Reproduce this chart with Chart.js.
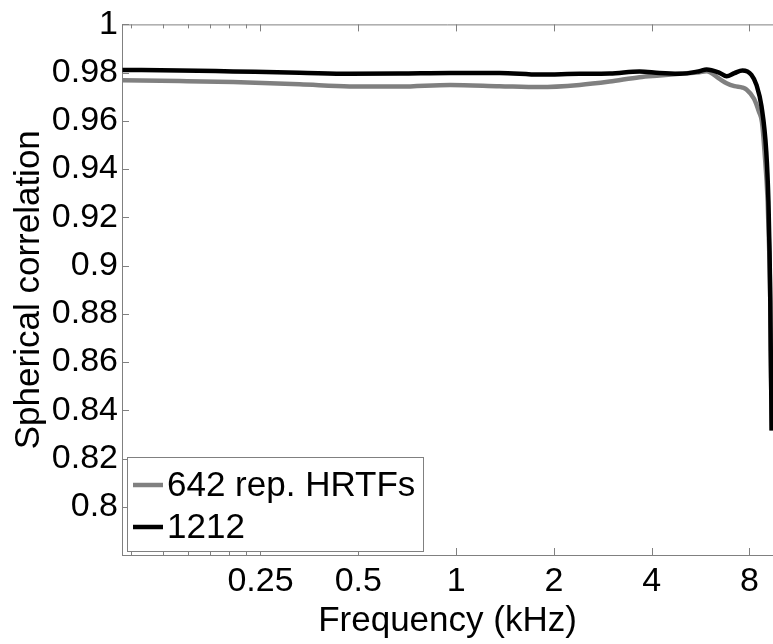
<!DOCTYPE html>
<html>
<head>
<meta charset="utf-8">
<script src="https://cdn.jsdelivr.net/npm/chart.js@4.4.1/dist/chart.umd.min.js"></script>
<style>
  html, body { margin: 0; padding: 0; background: #fff; }
  #wrap { width: 773px; height: 644px; position: relative; }
</style>
</head>
<body>
<div id="wrap"><canvas id="chart"></canvas></div>
<script>
// values (frequency in kHz, spherical correlation)
const freqGray = [0.094, 0.141, 0.206, 0.33, 0.47, 0.67, 0.96, 1.36, 1.81, 2.40, 2.97, 3.67, 4.23, 4.87, 5.61, 5.90, 6.47, 6.80, 7.19, 7.61, 7.83, 8.26, 8.56, 8.74, 8.90, 9.10, 9.20, 9.27, 9.30, 9.34, 9.36];
const corrGray = [0.9768, 0.9765, 0.9761, 0.9752, 0.9743, 0.9742, 0.9749, 0.9744, 0.9740, 0.9749, 0.9763, 0.9781, 0.9788, 0.9795, 0.9802, 0.9806, 0.9774, 0.9756, 0.9744, 0.9738, 0.9730, 0.9692, 0.9637, 0.9595, 0.9472, 0.9265, 0.9060, 0.8852, 0.8646, 0.8440, 0.8316];

const freqBlack = [0.094, 0.141, 0.206, 0.33, 0.47, 0.67, 0.96, 1.36, 1.81, 2.40, 2.97, 3.67, 4.23, 4.87, 5.61, 5.90, 6.47, 6.80, 7.19, 7.61, 8.11, 8.41, 8.71, 9.01, 9.15, 9.22, 9.27, 9.30, 9.34, 9.36];
const corrBlack = [0.9811, 0.9809, 0.9805, 0.9800, 0.9795, 0.9796, 0.9799, 0.9799, 0.9792, 0.9795, 0.9796, 0.9805, 0.9798, 0.9795, 0.9806, 0.9813, 0.9799, 0.9785, 0.9798, 0.9809, 0.9791, 0.9748, 0.9660, 0.9472, 0.9265, 0.9060, 0.8852, 0.8646, 0.8440, 0.8316];

const xTicks = [0.25, 0.5, 1, 2, 4, 8];
const xMinorTicks = [0.1, 0.125, 0.15, 0.175, 0.2, 0.225];
const yTicks = [0.8, 0.82, 0.84, 0.86, 0.88, 0.9, 0.92, 0.94, 0.96, 0.98, 1];

const labels = ['642 rep. HRTFs', '1212'];
const colors = ['#808080', '#000000'];

const fontFamily = '"Liberation Sans", Arial, Helvetica, sans-serif';
const axisColor = '#808080';

const toPoints = (xs, ys) => xs.map((x, i) => ({ x: x, y: ys[i] }));

// box, inward ticks and the legend, drawn like the matlab figure
const framePlugin = {
    id: 'frame',
    afterDraw: (chart) => {
        const { ctx, chartArea, scales } = chart;
        const { left, right, top, bottom } = chartArea;
        ctx.save();
        ctx.strokeStyle = axisColor;
        ctx.lineWidth = 1;
        ctx.beginPath();
        ctx.moveTo(left, top + 0.5);
        ctx.lineTo(right, top + 0.5);
        // major x ticks
        xTicks.forEach(v => {
            const px = Math.round(scales.x.getPixelForValue(v)) + 0.5;
            ctx.moveTo(px, bottom); ctx.lineTo(px, bottom - 7);
            ctx.moveTo(px, top); ctx.lineTo(px, top + 7);
        });
        // minor x ticks
        xMinorTicks.forEach(v => {
            const px = Math.round(scales.x.getPixelForValue(v)) + 0.5;
            ctx.moveTo(px, bottom); ctx.lineTo(px, bottom - 4);
            ctx.moveTo(px, top); ctx.lineTo(px, top + 4);
        });
        yTicks.forEach(v => {
            const py = Math.round(scales.y.getPixelForValue(v)) + 0.5;
            ctx.moveTo(left, py); ctx.lineTo(left + 7, py);
        });
        ctx.stroke();

        // legend box
        const bx = left + 5, bw = 296, bh = 94;
        const by = bottom - 4 - bh;
        ctx.fillStyle = '#ffffff';
        ctx.fillRect(bx, by, bw, bh);
        ctx.strokeStyle = axisColor;
        ctx.strokeRect(bx + 0.5, by + 0.5, bw, bh);
        ctx.font = '35px ' + fontFamily;
        ctx.textBaseline = 'middle';
        ctx.fillStyle = '#000';
        chart.data.datasets.forEach((ds, i) => {
            const ly = by + 28 + i * 42;
            ctx.strokeStyle = ds.borderColor;
            ctx.lineWidth = 4.5;
            ctx.beginPath();
            ctx.moveTo(bx + 6, ly);
            ctx.lineTo(bx + 36, ly);
            ctx.stroke();
            ctx.fillText(ds.label, bx + 40, ly + 1);
        });
        ctx.restore();
    }
};

const config = {
    type: 'line',
    data: {
        datasets: [
            {
                label: labels[0],
                data: toPoints(freqGray, corrGray),
                borderColor: colors[0],
                borderWidth: 4.5,
                pointRadius: 0,
                cubicInterpolationMode: 'monotone',
                fill: false,
                order: 2
            },
            {
                label: labels[1],
                data: toPoints(freqBlack, corrBlack),
                borderColor: colors[1],
                borderWidth: 4.5,
                pointRadius: 0,
                cubicInterpolationMode: 'monotone',
                fill: false,
                order: 1
            }
        ]
    },
    options: {
        responsive: true,
        maintainAspectRatio: false,
        animation: false,
        devicePixelRatio: 1,
        layout: { padding: { left: 0, right: 0, top: 0, bottom: 0 } },
        plugins: {
            legend: { display: false },
            tooltip: { enabled: false }
        },
        scales: {
            x: {
                type: 'logarithmic',
                min: 0.0937,
                max: 9.45,
                afterBuildTicks: (scale) => { scale.ticks = xTicks.map(v => ({ value: v })); },
                afterFit: (scale) => { scale.height = 89; },
                grid: { display: false, drawTicks: false },
                border: { display: true, color: axisColor, width: 1 },
                ticks: {
                    color: '#000',
                    font: { family: fontFamily, size: 34, lineHeight: 1.2 },
                    padding: 6,
                    maxRotation: 0,
                    autoSkip: false,
                    callback: (v) => String(v)
                },
                title: {
                    display: true,
                    text: 'Frequency (kHz)',
                    color: '#000',
                    font: { family: fontFamily, size: 35, lineHeight: 1.2 },
                    padding: { top: 0, bottom: 2 }
                }
            },
            y: {
                type: 'linear',
                min: 0.78,
                max: 1,
                afterBuildTicks: (scale) => { scale.ticks = yTicks.map(v => ({ value: v })); },
                afterFit: (scale) => { scale.width = 122; },
                grid: { display: false, drawTicks: false },
                border: { display: true, color: axisColor, width: 1 },
                ticks: {
                    color: '#000',
                    font: { family: fontFamily, size: 34, lineHeight: 1.2 },
                    padding: 4,
                    autoSkip: false,
                    callback: (v) => String(Number(v.toFixed(2)))
                },
                title: {
                    display: true,
                    text: 'Spherical correlation',
                    color: '#000',
                    font: { family: fontFamily, size: 35, lineHeight: 1.2 },
                    padding: { top: 8, bottom: 0 }
                }
            }
        }
    },
    plugins: [framePlugin]
};

const myChart = new Chart(document.getElementById('chart'), config);
</script>
</body>
</html>
